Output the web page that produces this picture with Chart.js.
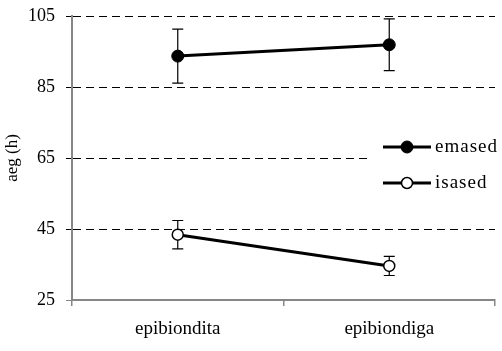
<!DOCTYPE html>
<html>
<head>
<meta charset="utf-8">
<script src="https://cdn.jsdelivr.net/npm/chart.js@4"></script>
<style>
html, body { margin: 0; padding: 0; background: #fff; }
#wrap { width: 502px; height: 351px; }
</style>
</head>
<body>
<div id="wrap"><canvas id="aegChart"></canvas></div>
<script>
var categories = ["epibiondita", "epibiondiga"];
var emased = [93.7, 96.9];
var emasedErr = [7.6, 7.3];
var isased = [43.4, 34.6];
var isasedErr = [4.0, 2.7];
var yMin = 25, yMax = 105, yStep = 20;

var serif = "'Liberation Serif', 'Times New Roman', serif";
var axisGrey = "#868686";

// error bars drawn under the points
var errorBars = {
    id: "errorBars",
    beforeDatasetsDraw: function (chart) {
        var ctx = chart.ctx, y = chart.scales.y;
        ctx.save();
        ctx.strokeStyle = "#000";
        ctx.lineWidth = 1.2;
        chart.data.datasets.forEach(function (ds, i) {
            var meta = chart.getDatasetMeta(i);
            meta.data.forEach(function (pt, j) {
                var top = y.getPixelForValue(ds.data[j] + ds.errors[j]);
                var bot = y.getPixelForValue(ds.data[j] - ds.errors[j]);
                ctx.beginPath();
                ctx.moveTo(pt.x, top); ctx.lineTo(pt.x, bot);
                ctx.moveTo(pt.x - 5.5, top); ctx.lineTo(pt.x + 5.5, top);
                ctx.moveTo(pt.x - 5.5, bot); ctx.lineTo(pt.x + 5.5, bot);
                ctx.stroke();
            });
        });
        ctx.restore();
    }
};

// legend box inside the plot, right side
var sideLegend = {
    id: "sideLegend",
    afterDraw: function (chart) {
        var ctx = chart.ctx;
        ctx.save();
        ctx.fillStyle = "#fff";
        ctx.fillRect(372, 133, 127, 64);
        chart.data.datasets.forEach(function (ds, i) {
            var yy = 147 + i * 36;
            ctx.strokeStyle = "#000";
            ctx.lineWidth = 3;
            ctx.beginPath();
            ctx.moveTo(383, yy); ctx.lineTo(431, yy);
            ctx.stroke();
            ctx.beginPath();
            ctx.arc(407, yy, ds.pointRadius, 0, Math.PI * 2);
            ctx.fillStyle = ds.pointBackgroundColor;
            ctx.fill();
            ctx.lineWidth = ds.pointBorderWidth;
            ctx.stroke();
            ctx.fillStyle = "#000";
            ctx.font = "19px " + serif;
            ctx.letterSpacing = "1px";
            ctx.textBaseline = "middle";
            ctx.fillText(ds.label, 435, yy);
        });
        ctx.restore();
    }
};

var ctx1 = document.getElementById("aegChart");
var aegChart = new Chart(ctx1, {
    type: "line",
    data: {
        labels: categories,
        datasets: [
            {
                label: "emased",
                data: emased,
                errors: emasedErr,
                borderColor: "#000",
                borderWidth: 3,
                pointRadius: 6,
                pointBackgroundColor: "#000",
                pointBorderColor: "#000",
                pointBorderWidth: 1,
                tension: 0
            },
            {
                label: "isased",
                data: isased,
                errors: isasedErr,
                borderColor: "#000",
                borderWidth: 3,
                pointRadius: 5.5,
                pointBackgroundColor: "#fff",
                pointBorderColor: "#000",
                pointBorderWidth: 1.5,
                tension: 0
            }
        ]
    },
    options: {
        responsive: true,
        maintainAspectRatio: false,
        animation: false,
        layout: { padding: { top: 16, right: 3, left: 0, bottom: 0 } },
        plugins: {
            legend: { display: false },
            tooltip: { enabled: false }
        },
        scales: {
            x: {
                offset: true,
                grid: {
                    offset: true,
                    drawOnChartArea: false,
                    tickLength: 6,
                    color: axisGrey,
                    lineWidth: 1.5
                },
                border: { color: axisGrey, width: 2 },
                ticks: {
                    color: "#000",
                    padding: 12,
                    font: { family: serif, size: 19 }
                },
                afterFit: function (scale) { scale.height = 51; }
            },
            y: {
                min: yMin,
                max: yMax,
                ticks: {
                    stepSize: yStep,
                    color: "#000",
                    padding: 11,
                    font: { family: serif, size: 18 }
                },
                grid: {
                    tickLength: 6,
                    lineWidth: 1,
                    color: function (c) { return c.tick && c.tick.value === yMin ? "rgba(0,0,0,0)" : "#000"; },
                    tickColor: function (c) { return c.tick && c.tick.value === yMin ? axisGrey : "#000"; }
                },
                border: {
                    color: axisGrey,
                    width: 2,
                    dash: function (c) { return c.type === "tick" ? [8, 5] : []; }
                },
                title: {
                    display: true,
                    text: "aeg (h)",
                    color: "#000",
                    padding: { top: 2, bottom: 0 },
                    font: { family: serif, size: 17 }
                },
                afterFit: function (scale) {
                    scale.width = 72;
                    scale.paddingTop = 0;
                    scale.paddingBottom = 0;
                }
            }
        }
    },
    plugins: [errorBars, sideLegend]
});
</script>
</body>
</html>
